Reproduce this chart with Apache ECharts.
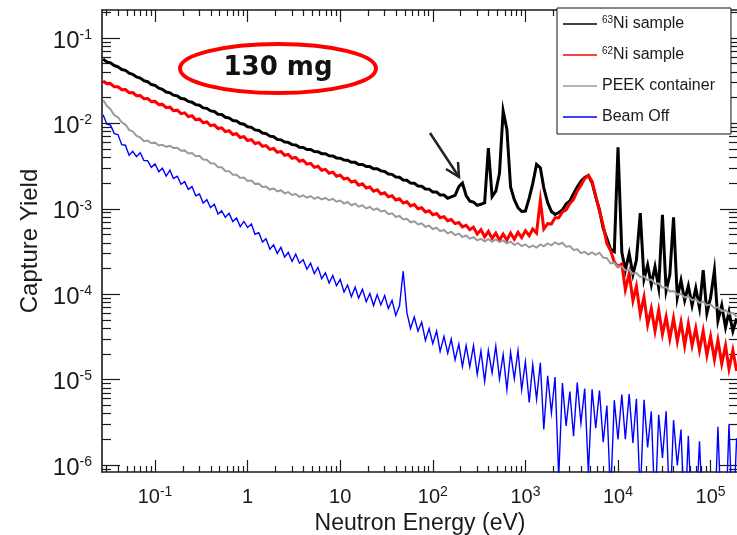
<!DOCTYPE html>
<html>
<head>
<meta charset="utf-8">
<script src="https://cdn.jsdelivr.net/npm/echarts@6/dist/echarts.min.js"></script>
<style>
  html, body { margin: 0; padding: 0; background: #fff; }
  #chart { width: 737px; height: 535px; }
</style>
</head>
<body>
<div id="chart"></div>
<script>
// Neutron energy bin centres (eV), 25 bins per decade
const energy = [
  0.0275, 0.0302, 0.0331, 0.0363, 0.0398, 0.0437, 0.0479, 0.0525, 0.0575, 0.0631, 0.0692, 0.0759, 0.0832, 0.0912,
  0.1, 0.11, 0.12, 0.132, 0.145, 0.158, 0.174, 0.191, 0.209, 0.229, 0.251, 0.275, 0.302, 0.331, 0.363, 0.398, 0.437, 0.479, 0.525, 0.575, 0.631, 0.692, 0.759, 0.832, 0.912,
  1, 1.1, 1.2, 1.32, 1.45, 1.58, 1.74, 1.91, 2.09, 2.29, 2.51, 2.75, 3.02, 3.31, 3.63, 3.98, 4.37, 4.79, 5.25, 5.75, 6.31, 6.92, 7.59, 8.32, 9.12,
  10, 11, 12, 13.2, 14.5, 15.8, 17.4, 19.1, 20.9, 22.9, 25.1, 27.5, 30.2, 33.1, 36.3, 39.8, 43.7, 47.9, 52.5, 57.5, 63.1, 69.2, 75.9, 83.2, 91.2,
  100, 110, 120, 132, 145, 158, 174, 191, 209, 229, 251, 275, 302, 331, 363, 398, 437, 479, 525, 575, 631, 692, 759, 832, 912,
  1000, 1100, 1200, 1320, 1450, 1580, 1740, 1910, 2090, 2290, 2510, 2750, 3020, 3310, 3630, 3980, 4370, 4790, 5250, 5750, 6310, 6920, 7590, 8320, 9120,
  10000, 11000, 12000, 13200, 14500, 15800, 17400, 19100, 20900, 22900, 25100, 27500, 30200, 33100, 36300, 39800, 43700, 47900, 52500, 57500, 63100, 69200, 75900, 83200, 91200,
  100000, 110000, 120000, 132000, 145000, 158000, 174000, 191000
];

// Capture yield per bin
const ni63Sample = [
  5.66e-2, 5.24e-2, 5.12e-2, 4.76e-2, 4.60e-2, 4.27e-2, 4.18e-2, 3.88e-2, 3.76e-2, 3.50e-2,
  3.40e-2, 3.17e-2, 3.08e-2, 2.85e-2, 2.79e-2, 2.58e-2, 2.51e-2, 2.33e-2, 2.28e-2, 2.14e-2,
  2.10e-2, 1.96e-2, 1.93e-2, 1.81e-2, 1.77e-2, 1.66e-2, 1.63e-2, 1.52e-2, 1.50e-2, 1.40e-2,
  1.38e-2, 1.28e-2, 1.27e-2, 1.18e-2, 1.16e-2, 1.08e-2, 1.07e-2, 9.95e-3, 9.80e-3, 9.14e-3,
  9.00e-3, 8.40e-3, 8.28e-3, 7.72e-3, 7.60e-3, 7.09e-3, 6.99e-3, 6.50e-3, 6.42e-3, 6.04e-3,
  6.00e-3, 5.64e-3, 5.60e-3, 5.25e-3, 5.23e-3, 4.95e-3, 4.95e-3, 4.68e-3, 4.66e-3, 4.42e-3,
  4.41e-3, 4.18e-3, 4.15e-3, 3.94e-3, 3.92e-3, 3.72e-3, 3.71e-3, 3.51e-3, 3.50e-3, 3.31e-3,
  3.30e-3, 3.12e-3, 3.12e-3, 2.95e-3, 2.94e-3, 2.78e-3, 2.74e-3, 2.56e-3, 2.53e-3, 2.36e-3,
  2.34e-3, 2.17e-3, 2.16e-3, 2.00e-3, 1.99e-3, 1.85e-3, 1.84e-3, 1.71e-3, 1.70e-3, 1.57e-3,
  1.57e-3, 1.45e-3, 1.45e-3, 1.33e-3, 1.38e-3, 1.44e-3, 1.82e-3, 2.00e-3, 1.43e-3, 1.23e-3,
  1.20e-3, 1.10e-3, 1.13e-3, 1.18e-3, 5.13e-3, 1.39e-3, 1.61e-3, 2.60e-3, 1.40e-2, 8.50e-3,
  1.80e-3, 1.28e-3, 1.03e-3, 9.30e-4, 9.40e-4, 1.34e-3, 1.97e-3, 3.31e-3, 3.02e-3, 1.76e-3,
  1.18e-3, 9.30e-4, 8.60e-4, 9.05e-4, 9.65e-4, 1.14e-3, 1.24e-3, 1.50e-3, 1.80e-3, 2.11e-3,
  2.32e-3, 2.45e-3, 2.02e-3, 1.38e-3, 9.70e-4, 5.90e-4, 4.50e-4, 3.35e-4, 3.15e-4, 5.25e-3,
  3.10e-4, 1.90e-4, 3.00e-4, 1.70e-4, 2.50e-4, 8.91e-4, 1.50e-4, 2.20e-4, 1.30e-4, 2.10e-4,
  1.20e-4, 8.51e-4, 1.10e-4, 1.70e-4, 7.94e-4, 9.10e-5, 1.45e-4, 8.50e-5, 1.25e-4, 7.40e-5,
  1.18e-4, 6.90e-5, 1.91e-4, 6.00e-5, 9.10e-5, 1.91e-4, 4.90e-5, 7.40e-5, 4.10e-5, 6.20e-5,
  3.70e-5, 5.20e-5
];

const ni62Sample = [
  3.14e-2, 2.92e-2, 2.91e-2, 2.69e-2, 2.69e-2, 2.48e-2, 2.49e-2, 2.29e-2, 2.30e-2, 2.11e-2,
  2.12e-2, 1.95e-2, 1.96e-2, 1.80e-2, 1.81e-2, 1.66e-2, 1.67e-2, 1.53e-2, 1.55e-2, 1.41e-2,
  1.43e-2, 1.30e-2, 1.33e-2, 1.20e-2, 1.23e-2, 1.10e-2, 1.13e-2, 1.02e-2, 1.04e-2, 9.40e-3,
  9.62e-3, 8.70e-3, 8.88e-3, 8.02e-3, 8.20e-3, 7.40e-3, 7.58e-3, 6.84e-3, 7.00e-3, 6.31e-3,
  6.46e-3, 5.82e-3, 5.96e-3, 5.38e-3, 5.50e-3, 4.96e-3, 5.08e-3, 4.58e-3, 4.70e-3, 4.23e-3,
  4.34e-3, 3.91e-3, 4.00e-3, 3.60e-3, 3.70e-3, 3.33e-3, 3.41e-3, 3.06e-3, 3.15e-3, 2.83e-3,
  2.90e-3, 2.61e-3, 2.69e-3, 2.41e-3, 2.48e-3, 2.23e-3, 2.29e-3, 2.06e-3, 2.12e-3, 1.89e-3,
  1.96e-3, 1.75e-3, 1.80e-3, 1.61e-3, 1.67e-3, 1.49e-3, 1.54e-3, 1.38e-3, 1.42e-3, 1.27e-3,
  1.31e-3, 1.17e-3, 1.21e-3, 1.08e-3, 1.12e-3, 1.00e-3, 1.03e-3, 9.20e-4, 9.50e-4, 8.50e-4,
  8.80e-4, 7.85e-4, 8.10e-4, 7.25e-4, 7.50e-4, 6.70e-4, 6.90e-4, 6.15e-4, 6.40e-4, 5.70e-4,
  6.10e-4, 5.05e-4, 5.70e-4, 4.70e-4, 5.45e-4, 4.50e-4, 5.20e-4, 4.30e-4, 5.05e-4, 4.30e-4,
  5.20e-4, 4.40e-4, 5.30e-4, 4.60e-4, 5.55e-4, 4.85e-4, 5.80e-4, 5.20e-4, 1.26e-3, 5.80e-4,
  6.70e-4, 6.65e-4, 7.85e-4, 7.85e-4, 9.20e-4, 9.70e-4, 1.15e-3, 1.29e-3, 1.62e-3, 1.88e-3,
  2.26e-3, 2.45e-3, 2.09e-3, 1.41e-3, 9.40e-4, 6.40e-4, 3.90e-4, 3.25e-4, 2.38e-4, 2.10e-4,
  2.26e-4, 1.13e-4, 1.74e-4, 8.40e-5, 1.24e-4, 5.85e-5, 9.30e-5, 4.40e-5, 6.80e-5, 3.70e-5,
  6.50e-5, 3.40e-5, 5.40e-5, 3.00e-5, 5.25e-5, 2.80e-5, 4.70e-5, 2.50e-5, 4.50e-5, 2.50e-5,
  4.00e-5, 2.20e-5, 3.70e-5, 1.93e-5, 3.20e-5, 1.72e-5, 2.90e-5, 1.53e-5, 2.50e-5, 1.34e-5,
  2.20e-5, 1.26e-5
];

const peekContainer = [
  1.88e-2, 1.61e-2, 1.46e-2, 1.25e-2, 1.18e-2, 1.03e-2, 9.70e-3, 8.40e-3, 8.05e-3, 7.15e-3,
  6.85e-3, 6.20e-3, 6.30e-3, 5.85e-3, 5.95e-3, 5.52e-3, 5.63e-3, 5.32e-3, 5.47e-3, 5.16e-3,
  5.20e-3, 4.78e-3, 4.83e-3, 4.45e-3, 4.50e-3, 4.12e-3, 4.17e-3, 3.78e-3, 3.76e-3, 3.41e-3,
  3.40e-3, 3.07e-3, 3.07e-3, 2.77e-3, 2.76e-3, 2.50e-3, 2.51e-3, 2.30e-3, 2.32e-3, 2.12e-3,
  2.14e-3, 1.95e-3, 1.97e-3, 1.80e-3, 1.82e-3, 1.68e-3, 1.73e-3, 1.60e-3, 1.65e-3, 1.52e-3,
  1.57e-3, 1.45e-3, 1.49e-3, 1.38e-3, 1.44e-3, 1.35e-3, 1.41e-3, 1.31e-3, 1.37e-3, 1.29e-3,
  1.34e-3, 1.26e-3, 1.31e-3, 1.21e-3, 1.25e-3, 1.15e-3, 1.20e-3, 1.10e-3, 1.15e-3, 1.06e-3,
  1.10e-3, 1.01e-3, 1.05e-3, 9.70e-4, 1.01e-3, 9.30e-4, 9.55e-4, 8.65e-4, 8.85e-4, 8.05e-4,
  8.25e-4, 7.50e-4, 7.65e-4, 6.95e-4, 7.15e-4, 6.55e-4, 6.75e-4, 6.15e-4, 6.35e-4, 5.80e-4,
  6.00e-4, 5.48e-4, 5.65e-4, 5.15e-4, 5.38e-4, 4.92e-4, 5.12e-4, 4.68e-4, 4.88e-4, 4.47e-4,
  4.65e-4, 4.27e-4, 4.45e-4, 4.15e-4, 4.42e-4, 4.12e-4, 4.37e-4, 4.07e-4, 4.27e-4, 3.94e-4,
  4.12e-4, 3.79e-4, 3.97e-4, 3.66e-4, 3.84e-4, 3.53e-4, 3.70e-4, 3.52e-4, 3.82e-4, 3.63e-4,
  3.93e-4, 3.73e-4, 4.05e-4, 3.84e-4, 4.00e-4, 3.60e-4, 3.67e-4, 3.30e-4, 3.36e-4, 3.02e-4,
  3.13e-4, 2.92e-4, 3.09e-4, 2.89e-4, 3.06e-4, 2.69e-4, 2.64e-4, 2.30e-4, 2.33e-4, 2.09e-4,
  2.12e-4, 1.90e-4, 1.93e-4, 1.74e-4, 1.77e-4, 1.59e-4, 1.62e-4, 1.46e-4, 1.49e-4, 1.32e-4,
  1.34e-4, 1.19e-4, 1.21e-4, 1.08e-4, 1.09e-4, 9.90e-5, 1.01e-4, 9.15e-5, 9.40e-5, 8.50e-5,
  8.75e-5, 7.90e-5, 8.20e-5, 7.40e-5, 7.60e-5, 6.85e-5, 7.05e-5, 6.35e-5, 6.50e-5, 5.90e-5,
  6.05e-5, 5.45e-5
];

const beamOff = [
  1.26e-2, 9.80e-3, 9.55e-3, 7.59e-3, 7.40e-3, 5.63e-3, 5.55e-3, 4.24e-3, 4.71e-3, 4.07e-3,
  4.54e-3, 3.67e-3, 3.67e-3, 3.06e-3, 3.35e-3, 2.72e-3, 2.99e-3, 2.42e-3, 2.83e-3, 2.27e-3,
  2.41e-3, 1.94e-3, 2.08e-3, 1.69e-3, 1.82e-3, 1.42e-3, 1.49e-3, 1.17e-3, 1.28e-3, 1.03e-3,
  1.13e-3, 8.70e-4, 9.45e-4, 7.96e-4, 8.85e-4, 7.11e-4, 7.81e-4, 6.19e-4, 7.11e-4, 6.04e-4,
  6.65e-4, 5.04e-4, 5.26e-4, 4.08e-4, 4.47e-4, 3.37e-4, 3.78e-4, 3.00e-4, 3.53e-4, 2.72e-4,
  3.08e-4, 2.42e-4, 2.94e-4, 2.31e-4, 2.54e-4, 1.96e-4, 2.31e-4, 1.74e-4, 2.06e-4, 1.52e-4,
  1.78e-4, 1.35e-4, 1.65e-4, 1.26e-4, 1.49e-4, 1.06e-4, 1.28e-4, 9.33e-5, 1.21e-4, 9.00e-5,
  1.14e-4, 8.15e-5, 1.02e-4, 7.36e-5, 9.91e-5, 7.50e-5, 9.64e-5, 6.79e-5, 8.45e-5, 5.63e-5,
  7.33e-5, 1.86e-4, 6.08e-5, 3.96e-5, 5.40e-5, 3.70e-5, 4.72e-5, 2.88e-5, 3.96e-5, 2.64e-5,
  3.70e-5, 2.14e-5, 3.20e-5, 2.04e-5, 2.98e-5, 1.70e-5, 2.61e-5, 1.42e-5, 2.50e-5, 1.42e-5,
  2.50e-5, 1.15e-5, 2.17e-5, 9.55e-6, 2.20e-5, 1.20e-5, 2.47e-5, 1.02e-5, 1.97e-5, 7.62e-6,
  2.09e-5, 1.02e-5, 2.18e-5, 7.60e-6, 1.62e-5, 5.40e-6, 1.50e-5, 5.90e-6, 1.57e-5, 2.60e-6,
  1.11e-5, 4.08e-6, 1.07e-5, 7.2e-7, 9.09e-6, 2.86e-6, 7.24e-6, 2.17e-6, 9.21e-6, 3.10e-6,
  7.83e-6, 8.0e-7, 7.72e-6, 2.69e-6, 7.43e-6, 1.85e-6, 4.98e-6, 4.2e-7, 5.71e-6, 1.99e-6,
  6.70e-6, 2.01e-6, 6.76e-6, 1.81e-6, 5.96e-6, 4.2e-7, 5.79e-6, 1.61e-6, 4.24e-6, 2.8e-7,
  3.88e-6, 1.21e-6, 4.26e-6, 2.5e-7, 3.35e-6, 9.9e-7, 2.60e-6, 2.0e-7, 2.20e-6, 1.9e-7,
  2.4e-7, 1.89e-6, 1.9e-7, 1.8e-7, 1.8e-7, 1.8e-7, 2.80e-6, 1.7e-7, 1.7e-7, 3.00e-6,
  1.7e-7, 2.06e-6
];

const seriesNames = ['63Ni sample', '62Ni sample', 'PEEK container', 'Beam Off'];
const seriesColors = ['#000000', '#ff0000', '#9a9a9a', '#0000ff'];
const seriesWidths = [3, 3, 2, 1.4];

// Axis ranges and labelled decades
const xRange = [0.02676, 1.977e5];
const yRange = [8.28e-7, 0.2128];
const xMajorTicks = [0.1, 1, 10, 100, 1000, 10000, 100000];
const yMajorTicks = [1e-6, 1e-5, 1e-4, 1e-3, 1e-2, 1e-1];

function minorTicks(firstDecade, lastDecade, range) {
  const out = [];
  for (let d = firstDecade; d <= lastDecade; d++) {
    for (let m = 2; m <= 9; m++) {
      const v = m * Math.pow(10, d);
      if (v >= range[0] && v <= range[1]) out.push(v);
    }
  }
  return out;
}
const xMinorTicks = minorTicks(-2, 5, xRange);
const yMinorTicks = minorTicks(-7, -1, yRange);

const FONT = '"Liberation Sans", Arial, Helvetica, sans-serif';
const INK = '#1a1a1a';

function powerLabel(v, plainLow) {
  const n = Math.round(Math.log10(v));
  if (plainLow && n === 0) return '{b|1}';
  if (plainLow && n === 1) return '{b|10}';
  return '{b|10}{s|' + n + '}';
}

const frameLine = { show: true, onZero: false, lineStyle: { color: INK, width: 1.6 } };
const noLine = { show: false };

function axisDef(range, gridIndex, position, ticks, len, opts) {
  return Object.assign({
    type: 'log', logBase: 10, gridIndex, position,
    min: range[0], max: range[1],
    axisLine: gridIndex === 0 ? frameLine : noLine,
    axisTick: { show: true, inside: true, length: len, customValues: ticks, lineStyle: { color: INK, width: 1.2 } },
    axisLabel: { show: false },
    splitLine: { show: false },
    minorTick: { show: false },
    minorSplitLine: { show: false }
  }, opts || {});
}

// Plot frame: both grids share the same rectangle (one carries the decade ticks, the other the sub-decade ticks)
const plotRect = { left: 102, top: 10, width: 636, height: 462, containLabel: false, outerBoundsMode: 'none' };

const chart = echarts.init(document.getElementById('chart'), null, { renderer: 'canvas' });

chart.setOption({
  animation: false,
  backgroundColor: '#fff',
  grid: [Object.assign({}, plotRect), Object.assign({}, plotRect)],
  xAxis: [
    axisDef(xRange, 0, 'bottom', xMajorTicks, 12, {
      name: 'Neutron Energy (eV)',
      nameLocation: 'middle',
      nameGap: 32,
      nameTextStyle: { fontFamily: FONT, fontSize: 23, color: INK },
      axisLabel: {
        show: true, customValues: xMajorTicks, margin: 13,
        formatter: v => powerLabel(v, true),
        rich: {
          b: { fontFamily: FONT, fontSize: 20, lineHeight: 24, color: INK },
          s: { fontFamily: FONT, fontSize: 14, lineHeight: 12, verticalAlign: 'top', color: INK }
        }
      }
    }),
    axisDef(xRange, 0, 'top', xMajorTicks, 12),
    axisDef(xRange, 1, 'bottom', xMinorTicks, 6),
    axisDef(xRange, 1, 'top', xMinorTicks, 6)
  ],
  yAxis: [
    axisDef(yRange, 0, 'left', yMajorTicks, 18, {
      name: 'Capture Yield',
      nameLocation: 'middle',
      nameGap: 57,
      nameTextStyle: { fontFamily: FONT, fontSize: 24, color: INK },
      axisLabel: {
        show: true, customValues: yMajorTicks, margin: 10,
        padding: [6, 0, 0, 0],
        formatter: v => powerLabel(v, false),
        rich: {
          b: { fontFamily: FONT, fontSize: 24, lineHeight: 26, color: INK },
          s: { fontFamily: FONT, fontSize: 14, lineHeight: 12, verticalAlign: 'top', color: INK }
        }
      }
    }),
    axisDef(yRange, 0, 'right', yMajorTicks, 18),
    axisDef(yRange, 1, 'left', yMinorTicks, 9),
    axisDef(yRange, 1, 'right', yMinorTicks, 9)
  ],
  legend: {
    orient: 'vertical',
    left: 557, top: 8,
    padding: [7, 16, 8, 6],
    icon: 'rect',
    itemWidth: 34, itemHeight: 1.6, itemGap: 13,
    backgroundColor: '#fff',
    borderColor: '#111', borderWidth: 1, borderRadius: 0,
    data: seriesNames,
    formatter: name => {
      const m = name.match(/^(\d+)(.*)$/);
      return m ? '{sup|' + m[1] + '}{t|' + m[2] + '}' : '{t|' + name + '}';
    },
    textStyle: {
      fontFamily: FONT, fontSize: 16, color: INK, lineHeight: 18,
      rich: {
        t: { fontFamily: FONT, fontSize: 16, lineHeight: 18, color: INK },
        sup: { fontFamily: FONT, fontSize: 10, lineHeight: 10, verticalAlign: 'top', color: INK }
      }
    }
  },
  series: [ni63Sample, ni62Sample, peekContainer, beamOff].map((vals, i) => ({
    type: 'line',
    name: seriesNames[i],
    xAxisIndex: 0, yAxisIndex: 0,
    data: energy.map((e, k) => [e, vals[k]]),
    symbol: 'none', showSymbol: false,
    clip: true, silent: true,
    lineStyle: { color: seriesColors[i], width: seriesWidths[i], join: 'miter' },
    itemStyle: { color: seriesColors[i] },
    z: 2 + i
  })),
  graphic: [
    {
      type: 'ellipse', z: 100,
      shape: { cx: 278, cy: 68.5, rx: 98, ry: 24.5 },
      style: { fill: 'rgba(0,0,0,0)', stroke: '#ff0000', lineWidth: 4 }
    },
    {
      type: 'text', z: 101, x: 278, y: 68,
      style: {
        text: '130 mg', fill: '#111',
        font: 'bold 26px "DejaVu Sans", sans-serif',
        align: 'center', verticalAlign: 'middle'
      }
    },
    {
      type: 'polyline', z: 100,
      shape: { points: [[430, 133], [459, 177]] },
      style: { stroke: '#222', lineWidth: 2.5, fill: null }
    },
    {
      type: 'polyline', z: 100,
      shape: { points: [[446, 169], [459, 177], [458, 162]] },
      style: { stroke: '#222', lineWidth: 2.5, fill: null, lineJoin: 'miter' }
    }
  ]
});
</script>
</body>
</html>
